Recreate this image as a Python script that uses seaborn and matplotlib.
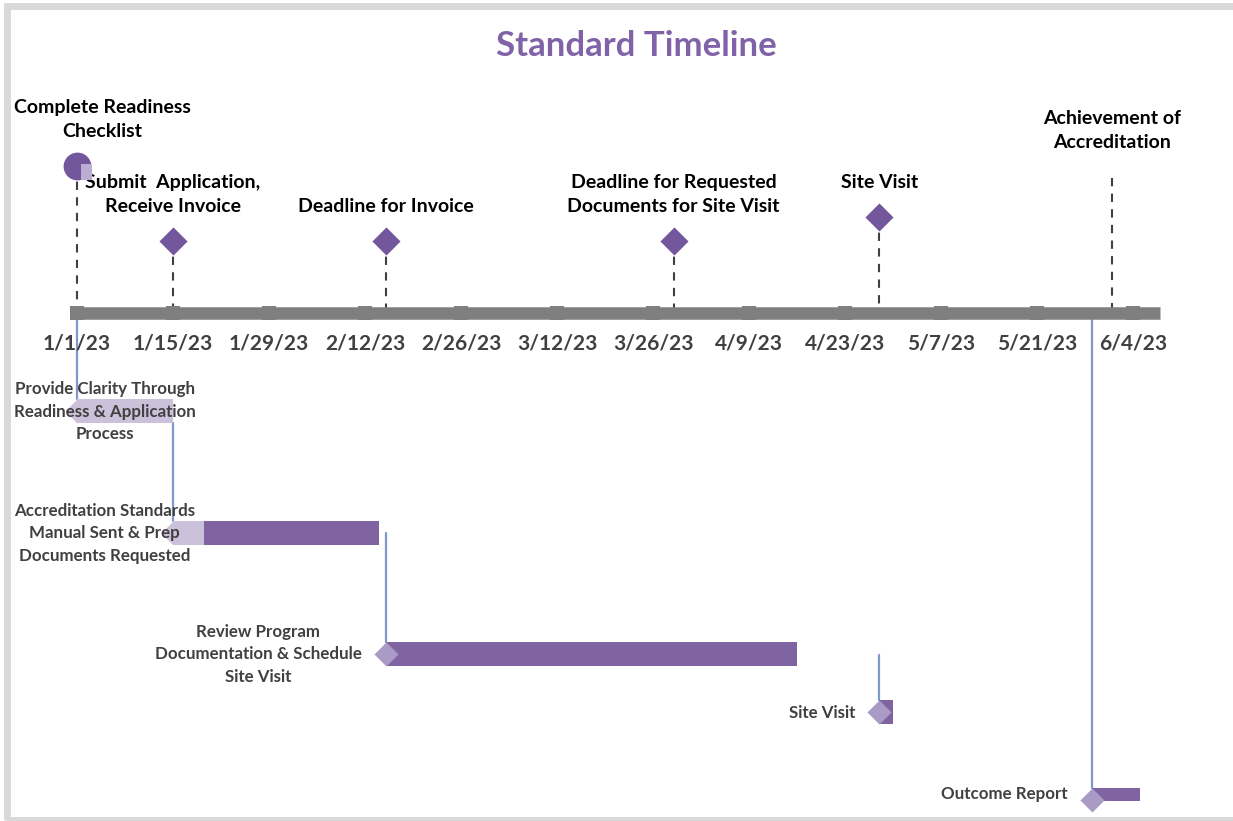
import pandas as pd
import numpy as np
import matplotlib
matplotlib.use("Agg")
import matplotlib.pyplot as plt
import matplotlib.patches as mpatches
import seaborn as sns

# data
TICK_LABELS = ["1/1/23", "1/15/23", "1/29/23", "2/12/23", "2/26/23", "3/12/23",
               "3/26/23", "4/9/23", "4/23/23", "5/7/23", "5/21/23", "6/4/23"]

MILESTONES = ["Complete Readiness\nChecklist", "Submit  Application,\nReceive Invoice",
              "Deadline for Invoice", "Deadline for Requested\nDocuments for Site Visit",
              "Site Visit", "Achievement of\nAccreditation"]
MILESTONE_DATES = ["2023-01-01", "2023-01-15", "2023-02-15", "2023-03-29", "2023-04-28", "2023-06-01"]
MILESTONE_SHAPES = ["circle", "diamond", "diamond", "diamond", "diamond", "none"]

TASKS = ["Provide Clarity Through\nReadiness & Application\nProcess",
         "Accreditation Standards\nManual Sent & Prep\nDocuments Requested",
         "Review Program\nDocumentation & Schedule\nSite Visit",
         "Site Visit", "Outcome Report"]
TASK_START = ["2023-01-01", "2023-01-15", "2023-02-15", "2023-04-28", "2023-05-29"]
TASK_END = ["2023-01-15", "2023-02-14", "2023-04-16", "2023-04-30", "2023-06-05"]
TASK_PROGRESS = [1.0, 0.15, 0.0, 0.0, 0.0]

# layout (pixel rows, figure is drawn in pixel-like y units)
W, H = 1233, 821
PX_PER_DAY = 96 / 14
X0_PX = 77
LEFT_PX = 14
AXIS_Y = 313
MS_Y = [166, 241, 241, 241, 217, 178]
ROW_Y = [411.5, 533, 654, 712.5, 794.5]
ROW_H = [24, 24, 24, 24, 13]
DIAMOND_DY = [0, 0, 0, 0, 6]
CONN_TOP = [313, 423, 533, 655, 313]

DARK = "#8064a2"
LIGHT = "#ccc1da"
MID = "#a99bc6"
MS_COLOR = "#73579c"
CONN = "#7f98c9"
GREY = "#7f7f7f"
TXT = "#404040"

BASE = pd.Timestamp("2023-01-01")


def days(s):
    return (pd.to_datetime(s) - BASE) / pd.Timedelta(days=1)


tick_d = np.array([days(pd.to_datetime(t, format="%m/%d/%y")) for t in TICK_LABELS])
ms_d = np.array([days(d) for d in MILESTONE_DATES])
t_start = np.array([days(d) for d in TASK_START])
t_end = np.array([days(d) for d in TASK_END])

sns.set_theme(style="white")
plt.rcParams["font.family"] = ["Lato", "DejaVu Sans"]

fig = plt.figure(figsize=(W / 100, H / 100), dpi=100)
ax = fig.add_axes([0, 0, 1, 1])
ax.set_xlim(-X0_PX / PX_PER_DAY, (W - X0_PX) / PX_PER_DAY)
ax.set_ylim(H, 0)
ax.axis("off")

# outer frame (display coords, origin bottom-left)
fig.patches.append(mpatches.Rectangle((6.5, 1.5), W + 20, H - 7.5, transform=None,
                                      fill=False, edgecolor="#d9d9d9", linewidth=5))

# title
ax.text((636 - X0_PX) / PX_PER_DAY, 46, "Standard Timeline", ha="center", va="center",
        fontsize=25, fontweight="bold", color="#7f62a8")

# timeline axis
ax.plot([-5 / PX_PER_DAY, (1160 - X0_PX) / PX_PER_DAY], [AXIS_Y, AXIS_Y],
        color=GREY, linewidth=9, solid_capstyle="butt", zorder=2)
ax.scatter(tick_d, [AXIS_Y] * len(tick_d), marker="s", s=100, color=GREY, zorder=3, linewidths=0)
for d, lab in zip(tick_d, TICK_LABELS):
    ax.text(d, 343, lab, ha="center", va="center", fontsize=15, fontweight="bold", color=TXT)


def keep_inside(txt, x_off, y_off):
    fig.canvas.draw()
    bb = txt.get_window_extent()
    if bb.x0 < LEFT_PX:
        txt.set_position((x_off + LEFT_PX - bb.x0, y_off))


# milestones
for d, y, name, shape in zip(ms_d, MS_Y, MILESTONES, MILESTONE_SHAPES):
    ax.plot([d, d], [y, AXIS_Y], color="#404040", linewidth=1.5,
            linestyle=(0, (4, 3.5)), zorder=1)
    dy = 26 if shape != "none" else 27
    t = ax.annotate(name, xy=(d, y - dy), xytext=(0, 0), textcoords="offset pixels",
                    ha="center", va="bottom", multialignment="center",
                    fontsize=14, fontweight="bold", color="black", linespacing=1.52)
    keep_inside(t, 0, 0)

ms_df = pd.DataFrame({"d": ms_d, "y": MS_Y, "shape": MILESTONE_SHAPES})
dia = ms_df[ms_df["shape"] == "diamond"]
sns.scatterplot(data=dia, x="d", y="y", marker="D", s=205, color=MS_COLOR,
                linewidth=0, ax=ax, zorder=4, legend=False)
circ = ms_df[ms_df["shape"] == "circle"]
sns.scatterplot(data=circ, x="d", y="y", marker="o", s=400, color=MS_COLOR,
                linewidth=0, ax=ax, zorder=4, legend=False)
ax.add_patch(mpatches.Rectangle((circ["d"].iloc[0] + 4 / PX_PER_DAY, 164), 11 / PX_PER_DAY, 16,
                                color="#bcaed3", linewidth=0, zorder=5))

# gantt tasks
for i, name in enumerate(TASKS):
    s, e, p = t_start[i], t_end[i], TASK_PROGRESS[i]
    y, h = ROW_Y[i], ROW_H[i]
    # connector
    ax.plot([s, s], [CONN_TOP[i], y - h / 2], color=CONN, linewidth=1.6, zorder=1)
    done = (e - s) * p
    if done > 0:
        ax.barh(y, done, left=s, height=h, color=LIGHT, linewidth=0, zorder=2)
    if done < e - s:
        ax.barh(y, (e - s) - done, left=s + done, height=h, color=DARK, linewidth=0, zorder=2)
    dcol = LIGHT if p > 0 else MID
    ax.scatter([s], [y + DIAMOND_DY[i]], marker="D", s=150, color=dcol, linewidths=0, zorder=3)
    txt = ax.annotate(name, xy=(s, y), xytext=(-24, 0), textcoords="offset pixels",
                      ha="right", va="center", multialignment="center",
                      fontsize=12.2, fontweight="bold", color=TXT, linespacing=1.5, zorder=6)
    keep_inside(txt, -24, 0)

fig.savefig("out.png", dpi=100)
